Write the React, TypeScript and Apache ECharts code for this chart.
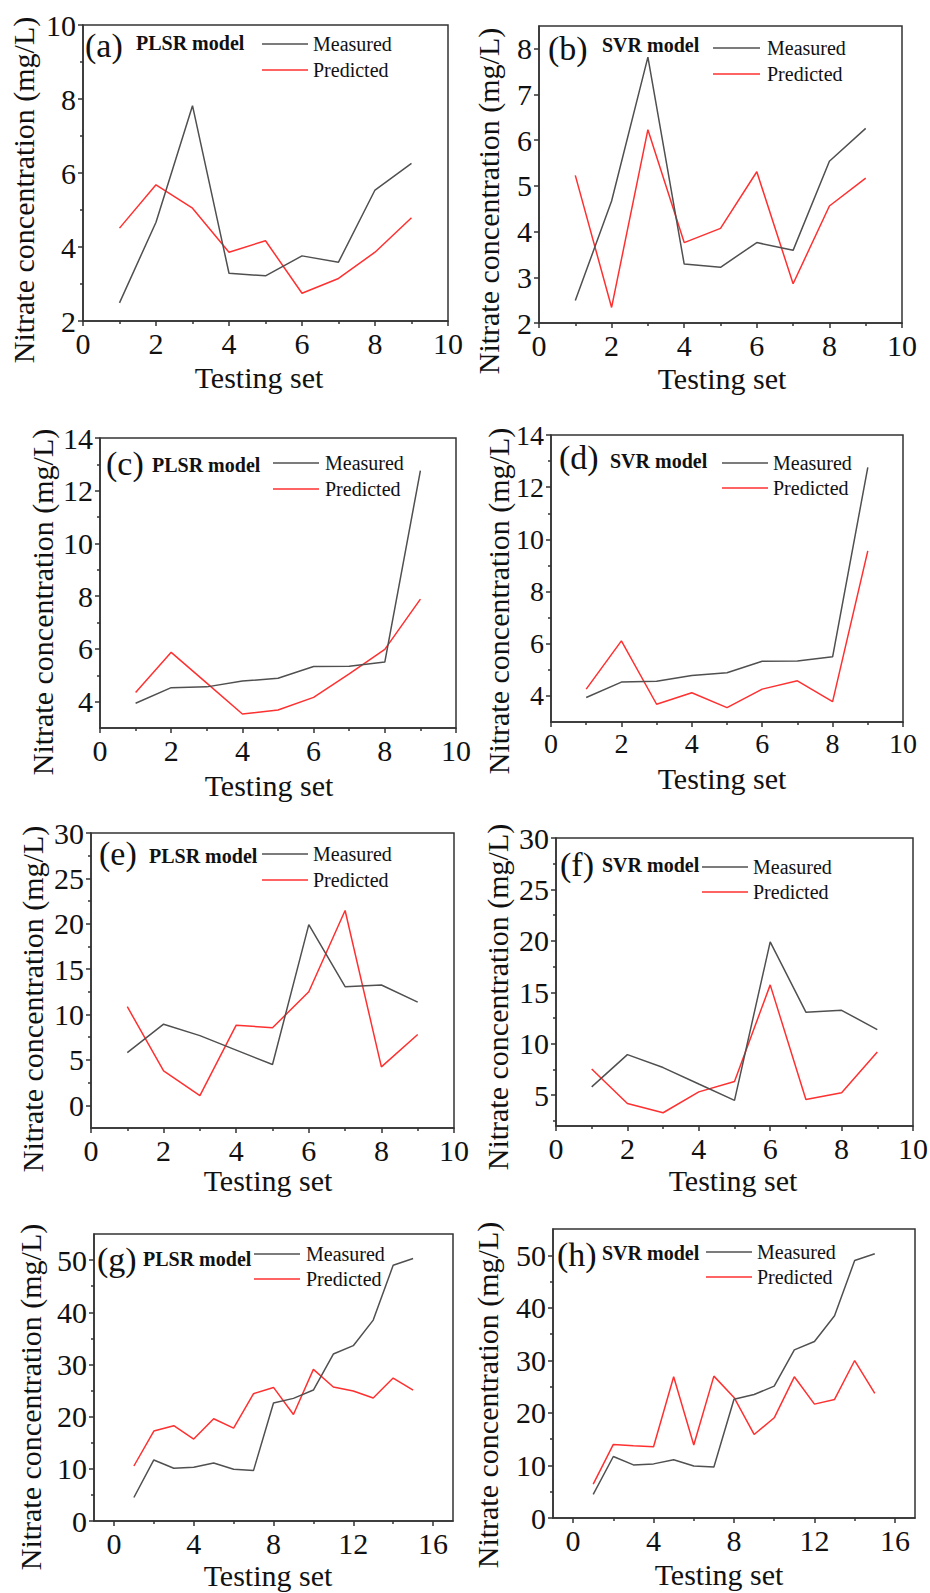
import React, { useEffect, useRef } from "react";
import * as echarts from "echarts";

// ---------------- data ----------------
const testingSet9 = [1, 2, 3, 4, 5, 6, 7, 8, 9];
const testingSet15 = [1, 2, 3, 4, 5, 6, 7, 8, 9, 10, 11, 12, 13, 14, 15];

const measured1 = [2.49, 4.67, 7.82, 3.29, 3.22, 3.76, 3.59, 5.54, 6.26];
const predictedA = [4.51, 5.68, 5.05, 3.86, 4.17, 2.75, 3.15, 3.86, 4.79];
const predictedB = [5.23, 2.34, 6.23, 3.76, 4.07, 5.31, 2.86, 4.56, 5.17];

const measured2 = [3.94, 4.53, 4.56, 4.78, 4.89, 5.33, 5.34, 5.5, 12.76];
const predictedC = [4.35, 5.87, 4.7, 3.53, 3.68, 4.16, 5.05, 5.98, 7.89];
const predictedD = [4.26, 6.11, 3.68, 4.12, 3.55, 4.26, 4.58, 3.78, 9.56];

const measured3 = [5.8, 8.94, 7.68, 6.08, 4.49, 19.9, 13.07, 13.25, 11.37];
const predictedE = [10.86, 3.79, 1.07, 8.83, 8.54, 12.51, 21.46, 4.23, 7.8];
const predictedF = [7.55, 4.19, 3.29, 5.32, 6.32, 15.72, 4.58, 5.23, 9.2];

const measured4 = [4.5, 11.7, 10.1, 10.3, 11.1, 9.9, 9.7, 22.6, 23.5, 25.1, 32.0, 33.6, 38.5, 49.0, 50.3];
const predictedG = [10.54, 17.24, 18.26, 15.71, 19.6, 17.8, 24.4, 25.6, 20.4, 29.06, 25.67, 24.9, 23.56, 27.4, 25.1];
const predictedH = [6.46, 14.0, 13.75, 13.56, 26.87, 13.88, 27.0, 22.94, 15.9, 19.07, 26.87, 21.67, 22.56, 29.97, 23.7];

// tick labels
const ticksX10 = [0, 2, 4, 6, 8, 10];
const minorX10 = [1, 3, 5, 7, 9];
const ticksX16 = [0, 4, 8, 12, 16];
const minorX16 = [2, 6, 10, 14];
const ticksYA = [2, 4, 6, 8, 10];
const minorYA = [3, 5, 7, 9];
const ticksYB = [2, 3, 4, 5, 6, 7, 8];
const minorYB: number[] = [];
const ticksYCD = [4, 6, 8, 10, 12, 14];
const minorYCD = [5, 7, 9, 11, 13];
const ticksYE = [0, 5, 10, 15, 20, 25, 30];
const minorYE = [2.5, 7.5, 12.5, 17.5, 22.5, 27.5];
const ticksYF = [5, 10, 15, 20, 25, 30];
const minorYF = [2.5, 7.5, 12.5, 17.5, 22.5, 27.5];
const ticksYGH = [0, 10, 20, 30, 40, 50];
const minorYGH = [5, 15, 25, 35, 45];

const panelLetters = ["(a)", "(b)", "(c)", "(d)", "(e)", "(f)", "(g)", "(h)"];
const modelNames = ["PLSR model", "SVR model", "PLSR model", "SVR model", "PLSR model", "SVR model", "PLSR model", "SVR model"];
const seriesNames = ["Measured", "Predicted"];
const xTitle = "Testing set";
const yTitle = "Nitrate concentration (mg/L)";

// ---------------- styles ----------------
const FONT = '"Liberation Serif", "Times New Roman", serif';
const AXIS = "#333333";
const TEXT = "#111111";
const GRAY = "#505050";
const RED = "#ff3030";

type Panel = {
  box: number[];
  xr: number[]; xt: number[]; xm: number[];
  yr: number[]; yt: number[]; ym: number[];
  xs: number[]; meas: number[]; pred: number[];
  letter: number[]; model: number[];
  leg: number[]; rows: number[];
  xT: number[]; yT: number[];
  fs: number;
};

const PANELS: Panel[] = [
  { box: [83, 25, 365, 296], xr: [0, 10], xt: ticksX10, xm: minorX10, yr: [2, 10], yt: ticksYA, ym: minorYA,
    xs: testingSet9, meas: measured1, pred: predictedA,
    letter: [85, 45], model: [136, 43], leg: [262, 308, 313], rows: [44, 70], xT: [259, 377], yT: [23, 190], fs: 30 },
  { box: [539, 26, 363, 297], xr: [0, 10], xt: ticksX10, xm: minorX10, yr: [2, 8.5], yt: ticksYB, ym: minorYB,
    xs: testingSet9, meas: measured1, pred: predictedB,
    letter: [548, 48], model: [602, 45], leg: [713, 760, 767], rows: [48, 74], xT: [722, 378], yT: [488, 201], fs: 30 },
  { box: [100, 438, 356, 290], xr: [0, 10], xt: ticksX10, xm: minorX10, yr: [3, 14], yt: ticksYCD, ym: minorYCD,
    xs: testingSet9, meas: measured2, pred: predictedC,
    letter: [106, 463], model: [152, 465], leg: [273, 319, 325], rows: [463, 489], xT: [269, 785], yT: [42, 602], fs: 30 },
  { box: [551, 435, 352, 287], xr: [0, 10], xt: ticksX10, xm: minorX10, yr: [3, 14], yt: ticksYCD, ym: minorYCD,
    xs: testingSet9, meas: measured2, pred: predictedD,
    letter: [559, 457], model: [610, 461], leg: [722, 768, 773], rows: [463, 488], xT: [722, 778], yT: [498, 601], fs: 28 },
  { box: [91, 833, 363, 295], xr: [0, 10], xt: ticksX10, xm: minorX10, yr: [-2.5, 30], yt: ticksYE, ym: minorYE,
    xs: testingSet9, meas: measured3, pred: predictedE,
    letter: [99, 853], model: [149, 856], leg: [262, 308, 313], rows: [854, 880], xT: [268, 1180], yT: [32, 999], fs: 30 },
  { box: [556, 838, 357, 288], xr: [0, 10], xt: ticksX10, xm: minorX10, yr: [2, 30], yt: ticksYF, ym: minorYF,
    xs: testingSet9, meas: measured3, pred: predictedF,
    letter: [560, 864], model: [602, 865], leg: [702, 748, 753], rows: [867, 892], xT: [733, 1180], yT: [497, 997], fs: 30 },
  { box: [94, 1234, 359, 287], xr: [-1, 17], xt: ticksX16, xm: minorX16, yr: [0, 55], yt: ticksYGH, ym: minorYGH,
    xs: testingSet15, meas: measured4, pred: predictedG,
    letter: [97, 1259], model: [143, 1259], leg: [254, 300, 306], rows: [1254, 1279], xT: [268, 1575], yT: [30, 1397], fs: 30 },
  { box: [553, 1229, 362, 289], xr: [-1, 17], xt: ticksX16, xm: minorX16, yr: [0, 55], yt: ticksYGH, ym: minorYGH,
    xs: testingSet15, meas: measured4, pred: predictedH,
    letter: [557, 1254], model: [602, 1253], leg: [706, 752, 757], rows: [1252, 1277], xT: [719, 1574], yT: [487, 1395], fs: 30 },
];

function pairs(xs: number[], ys: number[]) {
  return xs.map((x, i) => [x, ys[i]]);
}

export default function App() {
  const ref = useRef<HTMLDivElement>(null);
  useEffect(() => {
    if (!ref.current) return;
    const chart = echarts.init(ref.current, null, { renderer: "svg" });
    const grids: any[] = [];
    const xAxes: any[] = [];
    const yAxes: any[] = [];
    const series: any[] = [];
    const graphics: any[] = [];
    const lineStyle = { color: AXIS, width: 1.5 };

    PANELS.forEach((p, i) => {
      grids.push({
        left: p.box[0], top: p.box[1], width: p.box[2], height: p.box[3],
        show: true, borderColor: AXIS, borderWidth: 1.5, backgroundColor: "transparent",
        containLabel: false, outerBoundsMode: "none",
      });
      xAxes.push({
        type: "value", gridIndex: i, min: p.xr[0], max: p.xr[1], position: "bottom",
        axisLine: { show: true, onZero: false, lineStyle },
        axisTick: { show: true, length: 5, customValues: p.xt, lineStyle },
        axisLabel: { show: true, customValues: p.xt, fontSize: p.fs, fontFamily: FONT, color: TEXT, margin: 7 },
        splitLine: { show: false },
      });
      xAxes.push({
        type: "value", gridIndex: i, min: p.xr[0], max: p.xr[1], position: "bottom",
        axisLine: { show: false, onZero: false },
        axisTick: { show: p.xm.length > 0, length: 3, customValues: p.xm, lineStyle },
        axisLabel: { show: false },
        splitLine: { show: false },
      });
      yAxes.push({
        type: "value", gridIndex: i, min: p.yr[0], max: p.yr[1], position: "left",
        axisLine: { show: true, onZero: false, lineStyle },
        axisTick: { show: true, length: 5, customValues: p.yt, lineStyle },
        axisLabel: { show: true, customValues: p.yt, fontSize: p.fs, fontFamily: FONT, color: TEXT, margin: 7 },
        splitLine: { show: false },
      });
      yAxes.push({
        type: "value", gridIndex: i, min: p.yr[0], max: p.yr[1], position: "left",
        axisLine: { show: false, onZero: false },
        axisTick: { show: p.ym.length > 0, length: 3, customValues: p.ym.length ? p.ym : [p.yr[0]], lineStyle },
        axisLabel: { show: false },
        splitLine: { show: false },
      });
      series.push({
        type: "line", name: seriesNames[0], xAxisIndex: 2 * i, yAxisIndex: 2 * i,
        data: pairs(p.xs, p.meas), symbol: "none", lineStyle: { color: GRAY, width: 1.5 }, itemStyle: { color: GRAY },
        z: 3,
      });
      series.push({
        type: "line", name: seriesNames[1], xAxisIndex: 2 * i, yAxisIndex: 2 * i,
        data: pairs(p.xs, p.pred), symbol: "none", lineStyle: { color: RED, width: 1.5 }, itemStyle: { color: RED },
        z: 2,
      });

      graphics.push({
        type: "text", x: p.letter[0], y: p.letter[1], silent: true,
        style: { text: panelLetters[i], fontFamily: FONT, fontSize: 34, fill: TEXT, align: "left", verticalAlign: "middle" },
      });
      graphics.push({
        type: "text", x: p.model[0], y: p.model[1], silent: true,
        style: { text: modelNames[i], fontFamily: FONT, fontSize: 20, fontWeight: "bold", fill: TEXT, align: "left", verticalAlign: "middle" },
      });
      [GRAY, RED].forEach((c, k) => {
        graphics.push({
          type: "line", silent: true,
          shape: { x1: p.leg[0], y1: p.rows[k], x2: p.leg[1], y2: p.rows[k] },
          style: { stroke: c, lineWidth: 1.5 },
        });
        graphics.push({
          type: "text", x: p.leg[2], y: p.rows[k], silent: true,
          style: { text: seriesNames[k], fontFamily: FONT, fontSize: 20, fill: TEXT, align: "left", verticalAlign: "middle" },
        });
      });
      graphics.push({
        type: "text", x: p.xT[0], y: p.xT[1], silent: true,
        style: { text: xTitle, fontFamily: FONT, fontSize: 30, fill: TEXT, align: "center", verticalAlign: "middle" },
      });
      graphics.push({
        type: "text", x: p.yT[0], y: p.yT[1], rotation: Math.PI / 2, silent: true,
        style: { text: yTitle, fontFamily: FONT, fontSize: 30, fill: TEXT, align: "center", verticalAlign: "middle" },
      });
    });

    chart.setOption({
      animation: false,
      backgroundColor: "#ffffff",
      textStyle: { fontFamily: FONT },
      grid: grids,
      xAxis: xAxes,
      yAxis: yAxes,
      series,
      graphic: graphics,
    });
    return () => chart.dispose();
  }, []);

  return (
    <div
      ref={ref}
      style={{ position: "absolute", left: 0, top: 0, width: 930, height: 1593, background: "#fff" }}
    />
  );
}
